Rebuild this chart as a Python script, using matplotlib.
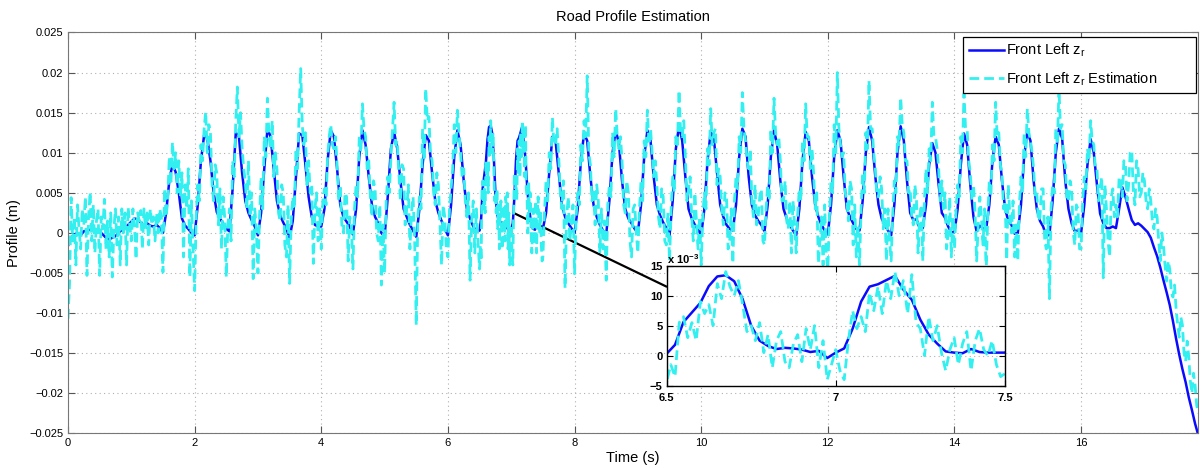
import numpy as np
import matplotlib.pyplot as plt
from matplotlib.patches import ConnectionPatch

plt.rcParams['font.family'] = ['Liberation Sans', 'DejaVu Sans']
plt.rcParams['mathtext.fontset'] = 'custom'
plt.rcParams['mathtext.rm'] = 'Liberation Sans'
plt.rcParams['mathtext.bf'] = 'Liberation Sans:bold'

# road profile, in units of 1e-3 m
# 0 .. 6.45 s, step 0.05 s
zr_a = [
    -1.6, -0.6, -0.2, 0.0, -0.3, 0.2, 0.3, 0.4, 0.5, 0.4,
    0.2, -0.2, -0.6, -0.8, -0.6, -0.4, 0.0, 0.4, 0.6, 1.0,
    1.4, 1.8, 1.7, 1.3, 1.0, 1.2, 0.9, 0.8, 1.0, 0.6,
    0.0, 2.5, 6.5, 8.6, 7.6, 5.0, 1.8, 0.9, 0.5, 0.0,
    -0.3, 3.5, 9.0, 12.2, 11.8, 9.0, 5.0, 2.6, 1.8, 1.2,
    0.5, 0.2, 5.5, 12.5, 12.0, 7.5, 4.0, 2.5, 1.6, 0.8,
    -0.3, 2.5, 8.0, 13.0, 12.0, 8.0, 4.0, 2.2, 1.3, 0.5,
    -0.6, 1.5, 7.0, 12.4, 12.2, 8.5, 4.5, 2.0, 1.0, 0.8,
    0.8, 3.0, 9.0, 12.8, 12.0, 8.0, 3.5, 2.0, 1.4, 0.8,
    -0.2, 3.0, 9.5, 12.8, 11.0, 7.0, 3.5, 2.0, 1.2, 0.0,
    -0.5, 4.5, 10.5, 12.6, 10.5, 6.5, 3.0, 2.0, 1.0, 0.3,
    -0.5, 3.0, 8.5, 12.2, 11.5, 7.5, 4.0, 2.5, 1.5, 0.5,
    -0.3, 3.5, 9.5, 12.8, 11.0, 6.5, 3.0, 1.8, 0.8, 0.2,
]
# 6.5 .. 7.475 s, step 0.025 s
zr_b = [
    0.3, 1.8, 5.6, 7.2, 8.8, 11.6, 13.2, 13.4, 12.4, 9.4,
    5.0, 2.5, 1.6, 1.1, 1.3, 1.2, 1.0, 0.6, 0.8, -0.4,
    0.5, 1.2, 4.5, 9.0, 11.5, 11.9, 12.6, 13.3, 11.0, 9.3,
    6.0, 3.5, 2.0, 0.7, 0.5, 0.4, 1.1, 0.6, 0.5, 0.5,
]
# 7.5 .. 17.85 s, step 0.05 s
zr_c = [
    0.5, 2.5, 7.5, 12.0, 11.5, 7.5, 3.5, 2.0, 1.2, 0.6,
    0.0, 3.0, 9.0, 12.4, 11.5, 7.0, 3.5, 2.0, 1.0, 0.3,
    -0.2, 4.0, 10.0, 12.8, 11.2, 6.5, 3.0, 1.8, 1.2, 0.5,
    0.0, 3.5, 9.5, 12.8, 11.5, 7.0, 3.5, 2.2, 1.3, 0.6,
    -0.3, 4.0, 10.5, 13.4, 11.5, 7.0, 3.0, 1.8, 1.0, 0.4,
    -0.3, 3.0, 9.0, 12.6, 11.8, 7.5, 3.5, 2.0, 1.0, 0.5,
    0.3, 3.5, 9.5, 13.0, 12.0, 7.0, 3.5, 2.2, 1.5, 1.0,
    0.2, 3.5, 9.5, 12.8, 11.0, 6.5, 3.0, 1.8, 1.0, 0.3,
    -0.3, 3.0, 9.0, 12.6, 11.5, 7.0, 3.5, 2.0, 1.0, 0.3,
    -0.2, 3.5, 9.5, 12.8, 11.5, 7.0, 3.0, 2.0, 1.2, 0.5,
    0.3, 4.0, 10.0, 13.2, 11.5, 7.0, 3.5, 1.8, 1.0, 0.3,
    -0.3, 3.5, 10.0, 13.3, 11.5, 6.5, 2.5, 1.6, 1.7, 0.6,
    0.6, 3.5, 8.5, 11.2, 10.0, 6.0, 2.5, 1.9, 0.8, 0.1,
    0.1, 3.0, 8.5, 12.4, 11.0, 6.0, 2.0, 0.2, 0.9, 0.6,
    0.5, 3.5, 9.0, 12.0, 11.0, 6.5, 3.0, 1.5, 1.0, -0.1,
    0.0, 3.5, 9.5, 12.6, 11.5, 6.5, 3.0, 1.5, 0.8, -0.4,
    -0.2, 4.0, 10.0, 13.0, 11.8, 6.5, 3.0, 1.2, 0.2, 0.3,
    0.0, 3.5, 8.5, 11.7, 10.0, 6.0, 2.4, 1.2, 0.6, 0.6,
    0.8, 0.6, 3.0, 5.7, 4.5, 3.0, 1.6, 1.0, 1.2, 0.9,
    0.5, 0.1, -0.6, -1.8, -2.9, -4.3, -5.9, -7.4, -9.0, -11.0,
    -13.2, -15.2, -17.0, -18.6, -20.5, -22.1, -23.8, -25.2,
]

# estimation, in units of 1e-3 m
# 0 .. 6.475 s, step 0.025 s
est_a = [
    -10.7, -6.3, 4.4, -1.0, 2.0, -4.0, 3.5, 0.5, -2.0, 3.0, 1.0, 4.5, -5.3, 2.0, 5.1, -1.0, 3.5, -2.5, 1.5, 3.0,
    -5.3, 2.0, 0.5, 4.2, -2.0, 1.5, -3.0, 2.5, -5.5, 0.5, 3.0, -1.5, 2.0, -4.0, 3.0, 0.0, 2.5, -4.0, 3.2, 1.0,
    -1.0, 3.0, 1.0, -3.3, 2.5, 1.5, 2.8, -2.0, 3.0, 0.5, 2.5, -1.5, 3.0, 1.0, 2.0, -1.0, 2.5, 0.0, 3.0, 2.0,
    -4.9, 5.5, 2.0, 4.0, 9.5, 6.0, 11.3, 8.0, 10.0, 5.0, 9.0, 4.5, 7.5, -3.0, 6.0, 3.0, 8.0, -5.5, 4.0, -2.0,
    -7.2, 2.0, 6.0, 4.0, 11.0, 9.0, 13.0, 15.1, 10.0, 13.5, 12.5, 6.0, 4.0, 8.5, 7.5, 1.0, 5.5, -2.0, 4.5, 2.0,
    -5.5, 1.0, 3.0, -1.0, 9.0, 7.0, 14.0, 18.2, 12.0, 15.0, 10.6, 8.0, 6.5, 3.0, 9.0, 2.0, 5.0, -5.7, 3.0, 0.5,
    -5.0, 2.0, 7.0, 3.0, 12.0, 9.5, 16.8, 12.0, 10.5, 14.0, 7.0, 10.0, 8.0, 2.5, 1.5, 6.0, 5.0, -1.5, -3.0, 3.5,
    -6.3, 1.5, 4.5, 3.0, 10.5, 8.0, 15.0, 20.5, 13.5, 11.0, 12.5, 6.0, 9.0, 5.0, 6.0, -3.8, 3.0, 5.0, -1.0, 3.0,
    -2.0, 4.0, 5.5, 3.5, 9.5, 12.0, 13.5, 11.0, 10.5, 12.0, 8.5, 4.0, 6.0, 1.0, 0.0, 5.0, 4.5, -3.5, 2.0, 1.0,
    -4.5, 3.0, 6.0, 4.5, 12.0, 10.0, 16.1, 13.0, 12.0, 8.0, 9.0, 4.5, 2.0, 6.5, 5.5, 0.0, -1.0, 3.5, -6.5, 1.0,
    -5.0, 4.0, 7.0, 5.0, 9.5, 13.0, 16.3, 11.0, 11.5, 7.5, 4.0, 8.5, 8.0, 1.0, 3.0, 6.0, -2.0, 2.5, 4.5, -1.0,
    -11.5, 2.0, 4.5, 3.0, 13.0, 9.0, 18.0, 14.0, 14.5, 10.0, 9.0, 5.0, 3.5, 7.5, 6.0, 1.0, -4.0, 3.5, 2.0, -2.0,
    -3.0, 3.0, 5.5, 8.0, 13.5, 10.0, 15.3, 12.5, 10.0, 7.0, 8.0, 4.0, 2.0, 5.0, -5.9, 1.5, 4.0, -2.5, 3.0, -1.0,
]
# 6.5 .. 7.4875 s, step 0.0125 s
est_b = [
    -4.5, -1.5, -3.5, 5.5, 6.5, 3.0, 5.5, 2.5,
    9.0, 7.0, 8.5, 5.0, 12.0, 9.5, 14.0, 11.5,
    10.0, 12.5, 8.5, 4.0, 5.0, 2.5, 5.5, 0.5,
    3.5, -2.0, 2.5, 4.0, -1.0, -2.0, 2.0, 3.5,
    -1.0, 4.5, 1.0, 5.0, -2.0, 2.5, -4.0, -1.5,
    1.0, -2.5, -4.0, 2.5, 7.5, 4.5, 6.5, 4.0,
    10.5, 7.5, 11.5, 7.0, 12.5, 9.5, 14.0, 10.0,
    12.5, 7.0, 13.5, 5.5, 4.5, 0.0, 6.5, 2.5,
    5.0, 0.5, -2.5, 1.0, 3.0, -1.5, 2.0, 4.0,
    -2.5, 2.5, 4.5, 1.0, 0.0, 2.5, -1.5, -3.5,
]
# 7.5 .. 17.85 s, step 0.025 s
est_c = [
    -3.0, 2.5, 6.5, 4.0, 10.0, 8.0, 14.4, 11.0, 11.0, 13.0, 9.5, 5.0, 3.0, 6.5, -6.9, 2.0, 4.5, -1.0, 1.0, 3.5,
    -5.1, 2.0, 5.0, 3.5, 11.0, 9.0, 14.0, 12.0, 19.6, 10.0, 8.5, 4.0, 5.5, 1.0, 6.0, 4.0, -2.5, 3.0, -2.0, 1.5,
    -5.9, 3.5, 6.0, 4.5, 12.5, 9.5, 15.5, 12.0, 10.5, 12.0, 9.0, 3.5, 2.5, 6.5, 5.0, -1.0, -3.0, 3.0, 3.5, 0.0,
    -2.5, 3.0, 6.5, 4.0, 11.5, 9.5, 15.3, 11.0, 13.0, 10.0, 7.0, 9.0, 6.0, 2.0, 0.5, 5.5, 4.5, -1.0, -1.5, 2.5,
    -3.5, 3.0, 7.0, 5.0, 12.0, 11.0, 17.8, 12.5, 12.0, 14.0, 9.5, 4.0, 5.5, 7.0, 2.0, -1.0, 5.0, 1.5, -2.0, 2.0,
    -4.0, 2.0, 5.0, 3.0, 10.5, 8.5, 15.5, 11.0, 12.5, 13.0, 6.0, 8.0, 7.0, 3.0, 1.0, 5.0, 4.5, -2.0, -1.0, 3.0,
    -3.8, 4.0, 7.0, 5.5, 12.0, 10.0, 17.5, 13.0, 11.5, 9.0, 8.0, 10.5, 4.0, 2.0, 6.0, 1.0, 2.0, 4.5, 5.5, -1.0,
    -1.5, 3.0, 6.0, 4.0, 13.0, 10.0, 16.8, 12.5, 11.0, 12.0, 9.0, 4.0, 4.0, 6.5, 1.5, 0.5, 4.0, -2.5, 4.0, 1.0,
    -2.5, 2.5, 5.5, 4.0, 11.5, 9.0, 16.1, 12.0, 12.0, 8.0, 10.5, 7.5, 3.0, 5.0, -3.8, -1.0, 2.0, -4.0, 3.5, -2.5,
    -4.5, 2.0, 6.5, 5.0, 13.5, 10.0, 20.0, 13.0, 11.0, 9.5, 10.0, 5.0, 4.0, 1.5, 6.5, 5.5, -1.5, 3.5, -3.0, 1.0,
    -4.0, 3.0, 7.5, 5.0, 12.5, 10.5, 19.0, 13.0, 13.0, 10.0, 8.0, 4.5, 4.5, 7.0, 5.5, 0.5, 3.0, -3.5, 3.0, -1.0,
    -3.5, 2.5, 6.5, 5.0, 12.0, 11.0, 16.9, 13.5, 12.5, 9.0, 9.0, 5.0, 5.5, 2.0, 1.0, 6.0, 4.0, -2.5, 2.0, 3.5,
    -3.5, 4.0, 8.0, 5.0, 10.5, 9.0, 16.3, 12.0, 12.0, 10.5, 8.0, 4.0, 6.5, 3.0, 5.0, -2.0, 0.0, 4.5, -3.0, 2.0,
    -2.0, 3.0, 6.0, 4.5, 12.0, 10.0, 17.4, 13.0, 13.0, 9.0, 7.5, 4.0, 6.0, 2.5, -3.5, 1.0, 4.5, 2.0, -1.5, 3.0,
    -5.0, 2.0, 6.5, 4.5, 11.0, 9.0, 16.3, 12.0, 12.5, 8.5, 7.5, 3.0, 4.0, -3.4, 6.0, 2.0, 0.0, 4.0, -3.0, 1.0,
    -3.5, 3.5, 7.0, 5.0, 12.5, 9.5, 15.5, 12.5, 11.5, 10.0, 8.0, 4.5, 5.0, 1.5, 2.0, 5.5, 5.5, -1.0, -2.0, 2.0,
    -8.2, 3.0, 6.0, 5.0, 13.0, 11.0, 18.0, 13.0, 13.5, 9.0, 8.5, 4.0, 4.0, 6.5, 5.5, 0.0, -1.5, 3.5, 3.0, -2.0,
    -2.0, 4.0, 7.0, 5.5, 10.5, 9.0, 14.0, 11.5, 11.0, 8.0, 8.0, 4.0, 5.5, 7.0, -5.6, 6.0, 3.0, -1.0, -3.0, 4.5,
    5.5, 2.0, 3.5, 2.0, 7.0, 6.5, 4.5, 9.0, 8.5, 4.0, 6.0, 10.0, 10.3, 5.0, 3.5, 9.0, 8.0, 4.5, 5.0, 7.5,
    6.5, 4.0, 3.0, 5.5, 4.0, 1.5, 0.5, 3.0, 2.0, -1.0, -3.5, 0.0, -1.5, -4.0, -6.0, -3.5, -4.5, -7.5, -8.0, -6.5,
    -9.5, -11.5, -13.0, -10.5, -11.5, -15.0, -16.0, -13.5, -15.5, -18.5, -20.0, -17.5, -19.0, -21.5, -22.5,
]

t_ref = np.concatenate([np.arange(len(zr_a)) * 0.05,
                        6.5 + np.arange(len(zr_b)) * 0.025,
                        7.5 + np.arange(len(zr_c)) * 0.05])
t_est = np.concatenate([np.arange(len(est_a)) * 0.025,
                        6.5 + np.arange(len(est_b)) * 0.0125,
                        7.5 + np.arange(len(est_c)) * 0.025])
z_ref = np.array(zr_a + zr_b + zr_c) * 1e-3
z_est = np.array(est_a + est_b + est_c) * 1e-3

blue = '#0a0aff'
cyan = '#33f0f0'
grid_kw = dict(color='#b0b0b0', linestyle=(0, (1, 3)), linewidth=0.8)

fig = plt.figure(figsize=(12.01, 4.68), dpi=100)
ax = fig.add_axes([0.0566, 0.074, 0.9406, 0.8566])

ax.plot(t_ref, z_ref, color=blue, lw=1.8, label=r'Front Left $\mathrm{z_r}$')
ax.plot(t_est, z_est, color=cyan, lw=2.0, dashes=(3.5, 1.8),
        label=r'Front Left $\mathrm{z_r}$ Estimation')

ax.set_xlim(0, 17.84)
ax.set_ylim(-0.025, 0.025)
ax.set_xticks(np.arange(0, 17, 2))
ax.set_yticks(np.arange(-0.025, 0.0251, 0.005))
ax.set_yticklabels(['\u22120.025', '\u22120.02', '\u22120.015', '\u22120.01', '\u22120.005',
                    '0', '0.005', '0.01', '0.015', '0.02', '0.025'])
ax.grid(True, **grid_kw)
ax.set_axisbelow(True)
ax.tick_params(direction='in', top=True, right=True, labelsize=8, length=5,
               color='#555555')
for s in ax.spines.values():
    s.set_color('#777777')

ax.set_title('Road Profile Estimation', fontsize=10.5, pad=8)
ax.set_xlabel('Time (s)', fontsize=10.5, labelpad=2)
ax.set_ylabel('Profile (m)', fontsize=10.5, labelpad=6)

# legend box stretched to the width it has in the original figure
leg = ax.legend(loc='upper left', bbox_to_anchor=(0.7927, 0.7895, 0.2055, 0.2),
                mode='expand', borderaxespad=0, fontsize=10.5, fancybox=False,
                edgecolor='black', framealpha=1, handlelength=2.4,
                handletextpad=0.2, labelspacing=0.75, borderpad=0.35)
leg.get_frame().set_linewidth(0.9)

# zoom window
ax_in = fig.add_axes([0.555, 0.176, 0.2817, 0.2564])
ax_in.plot(t_ref, z_ref * 1e3, color=blue, lw=1.8)
ax_in.plot(t_est, z_est * 1e3, color=cyan, lw=2.0, dashes=(3.5, 1.8))
ax_in.set_xlim(6.5, 7.5)
ax_in.set_ylim(-5, 15)
ax_in.set_xticks([6.5, 7, 7.5])
ax_in.set_xticklabels(['6.5', '7', '7.5'], fontweight='bold')
ax_in.set_yticks([-5, 0, 5, 10, 15])
ax_in.set_yticklabels(['\u22125', '0', '5', '10', '15'], fontweight='bold')
ax_in.tick_params(direction='in', top=True, right=True, labelsize=8, length=4)
ax_in.tick_params(axis='x', pad=5)
ax_in.tick_params(axis='y', pad=3)
ax_in.grid(True, **grid_kw)
ax_in.set_axisbelow(True)
for s in ax_in.spines.values():
    s.set_color('black')
    s.set_linewidth(1.0)
ax_in.text(0.0, 1.0, r'x 10$^{\mathbf{-3}}$', transform=ax_in.transAxes,
           ha='left', va='bottom', fontsize=8, fontweight='bold')

con = ConnectionPatch(xyA=(7.035, 0.0025), coordsA=ax.transData,
                      xyB=(6.5, 11.5), coordsB=ax_in.transData,
                      color='black', lw=1.6)
ax.add_artist(con)

fig.savefig('out.png', dpi=100)
